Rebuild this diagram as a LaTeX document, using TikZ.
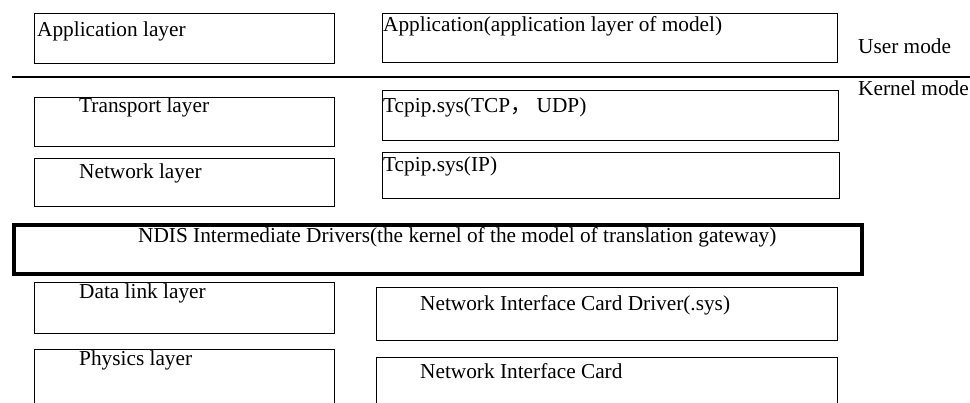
\documentclass[tikz,border=0pt]{standalone}
\usepackage{fontspec}
\setmainfont{Liberation Serif}
\newfontfamily\cjk{Noto Sans CJK SC}
\begin{document}
\begin{tikzpicture}[x=1pt,y=-1pt,
  box/.style={draw=black,line width=1pt,rectangle,anchor=north west,inner sep=0pt},
  bigbox/.style={draw=black,line width=4pt,rectangle,anchor=north west,inner sep=0pt},
  lbl/.style={anchor=base west,inner sep=0pt,font=\fontsize{21.3}{25}\selectfont}]
\useasboundingbox (0,0) rectangle (970,403);
\clip (0,0) rectangle (970,403);
% left column
\node[box,minimum width=300,minimum height=50] (al) at (34,13) {};
\node[box,minimum width=300,minimum height=49] (tl) at (34,97) {};
\node[box,minimum width=300,minimum height=48] (nl) at (34,158) {};
\node[box,minimum width=300,minimum height=51] (dl) at (34,282) {};
\node[box,minimum width=300,minimum height=80] (pl) at (34,349) {};
% right column
\node[box,minimum width=455,minimum height=49] (ar) at (382,13) {};
\node[box,minimum width=456,minimum height=50] (tr) at (382,90) {};
\node[box,minimum width=457,minimum height=46] (nr) at (382,152) {};
\node[box,minimum width=461,minimum height=53] (dr) at (376,287) {};
\node[box,minimum width=461,minimum height=80] (pr) at (376,357) {};
% NDIS
\node[bigbox,minimum width=848,minimum height=49] (ndis) at (12,223) {};
% separator
\coordinate (s1) at (12,77);
\coordinate (s2) at (970,77);
\draw[line width=1.2pt] (s1) -- (s2);
% labels
\node[lbl] (tal) at (37,37) {Application layer};
\node[lbl] (ttl) at (79,113) {Transport layer};
\node[lbl] (tnl) at (79,179) {Network layer};
\node[lbl] (tdl) at (79,299) {Data link layer};
\node[lbl] (tpl) at (79,366) {Physics layer};
\node[lbl] (tar) at (383,32) {Application(application layer of model)};
\node[lbl] (ttr) at (383,113) {Tcpip.sys(TCP{\cjk ，} UDP)};
\node[lbl] (tnr) at (383,172) {Tcpip.sys(IP)};
\node[lbl] (tdr) at (420,311) {Network Interface Card Driver(.sys)};
\node[lbl] (tpr) at (420,379) {Network Interface Card};
\node[lbl] (tnd) at (138,243) {NDIS Intermediate Drivers(the kernel of the model of translation gateway)};
\node[lbl] (tum) at (858,54) {User mode};
\node[lbl] (tkm) at (858,96) {Kernel mode};
\end{tikzpicture}
\end{document}
